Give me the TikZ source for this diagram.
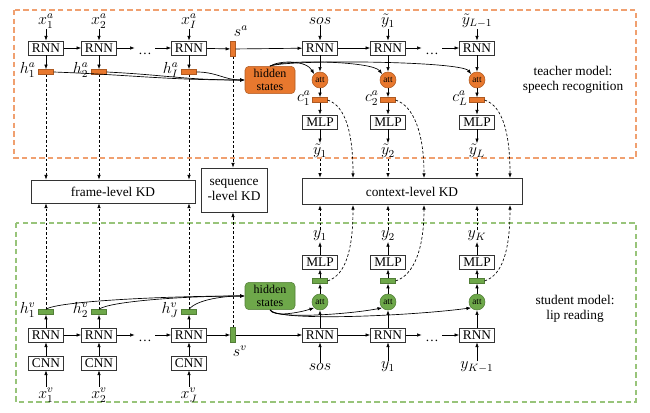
\documentclass[tikz,border=0pt]{standalone}
\usepackage{fontspec}
\setmainfont{Liberation Serif}
\usetikzlibrary{arrows.meta,calc}
\definecolor{org}{HTML}{E8782E}
\definecolor{orgd}{HTML}{C0581A}
\definecolor{orgl}{HTML}{F0A070}
\definecolor{grn}{HTML}{6EA84A}
\definecolor{grnd}{HTML}{4A8A2C}
\definecolor{grnl}{HTML}{98C47A}
\begin{document}
\begin{tikzpicture}[x=0.75pt,y=-0.75pt,font=\fontsize{10}{11}\selectfont,
  box/.style={draw=black!80,line width=0.6pt,minimum width=26pt,minimum height=10.5pt,inner sep=0.5pt},
  kdbox/.style={draw=black!80,line width=0.6pt,inner sep=1pt,align=center},
  hbar/.style={fill=#1,draw=#1!75!black,line width=0.4pt,minimum width=11pt,minimum height=3.6pt,inner sep=0pt},
  vbar/.style={fill=#1,draw=#1!75!black,line width=0.4pt,minimum width=3.6pt,minimum height=11pt,inner sep=0pt},
  attn/.style={circle,fill=#1,draw=#1!75!black,line width=0.4pt,minimum size=12pt,inner sep=0pt,font=\fontsize{7}{8}\selectfont},
  hid/.style={rounded corners=3pt,fill=#1,draw=#1!75!black,line width=0.4pt,minimum width=37.5pt,minimum height=20.5pt,inner sep=0pt,align=center,font=\fontsize{9}{9.5}\selectfont},
  lab/.style={inner sep=0.5pt,font=\fontsize{11.5}{12}\selectfont},
  arr/.style={-{Latex[length=3.5pt,width=2.6pt]},line width=0.5pt},
  darr/.style={arr,dash pattern=on 2pt off 1.5pt},
  frame/.style={draw=#1,line width=0.8pt,dash pattern=on 4pt off 2.5pt}]
\useasboundingbox (0,0) rectangle (650,413);

% frames
\draw[frame=orgl] (14,10) rectangle (636,158);
\draw[frame=grnl] (16,223) rectangle (636,402);

% ---------- teacher ----------
\node[lab] (xa1) at (46,21) {$x_1^a$};
\node[lab] (xa2) at (99,21) {$x_2^a$};
\node[lab] (xa3) at (189,21) {$x_I^a$};
\node[box] (ra1) at (46,48) {RNN};
\node[box] (ra2) at (99,48) {RNN};
\node[box] (ra3) at (189,48) {RNN};
\node[inner sep=1pt] (da) at (145,54) {\dots};
\node[vbar=org] (sa) at (233,49) {};
\node[lab,anchor=south west] (sal) at (233,37) {$s^a$};
\node[lab] (sos) at (320,21) {$sos$};
\node[lab] (yi1) at (388,21) {$\tilde y_1$};
\node[lab] (yi3) at (477,21) {$\tilde y_{L-1}$};
\node[box] (rd1) at (320,48) {RNN};
\node[box] (rd2) at (388,48) {RNN};
\node[box] (rd3) at (477,48) {RNN};
\node[inner sep=1pt] (dd) at (432,54) {\dots};
\node[hbar=org] (ha1) at (46,72) {};
\node[hbar=org] (ha2) at (99,72) {};
\node[hbar=org] (ha3) at (189,72) {};
\node[lab,anchor=east] (hla1) at ($(ha1.west)+(-2,-2)$) {$h_1^a$};
\node[lab,anchor=east] (hla2) at ($(ha2.west)+(-2,-2)$) {$h_2^a$};
\node[lab,anchor=east] (hla3) at ($(ha3.west)+(-2,-2)$) {$h_I^a$};
\node[hid=org] (hida) at (270,80) {hidden\\states};
\node[attn=org] (aa1) at (320,80) {att};
\node[attn=org] (aa2) at (388,80) {att};
\node[attn=org] (aa3) at (477,80) {att};
\node[hbar=org] (ca1) at (320,100) {};
\node[hbar=org] (ca2) at (388,100) {};
\node[hbar=org] (ca3) at (477,100) {};
\node[lab,anchor=east] (cla1) at ($(ca1.west)+(-1,-2)$) {$c_1^a$};
\node[lab,anchor=east] (cla2) at ($(ca2.west)+(-1,-2)$) {$c_2^a$};
\node[lab,anchor=east] (cla3) at ($(ca3.west)+(-1,-2)$) {$c_L^a$};
\node[box] (ma1) at (320,122) {MLP};
\node[box] (ma2) at (388,122) {MLP};
\node[box] (ma3) at (477,122) {MLP};
\node[lab] (ot1) at (320,151) {$\tilde y_1$};
\node[lab] (ot2) at (388,151) {$\tilde y_2$};
\node[lab] (ot3) at (477,151) {$\tilde y_L$};
\node[align=center] (tl) at (573,80) {teacher model:\\speech recognition};

% ---------- KD boxes ----------
\node[kdbox,minimum width=123pt,minimum height=17.25pt] (fkd) at (113,191.5) {frame-level KD};
\node[kdbox,minimum width=49.5pt,minimum height=33pt] (skd) at (234,190) {sequence\\-level KD};
\node[kdbox,minimum width=165pt,minimum height=20pt] (ckd) at (412,191.5) {context-level KD};
\coordinate (kt1) at (353,178); \coordinate (kt2) at (424,178); \coordinate (kt3) at (510,178);
\coordinate (kb1) at (353,205); \coordinate (kb2) at (424,205); \coordinate (kb3) at (510,205);

% ---------- student ----------
\node[lab] (ys1) at (320,236) {$y_1$};
\node[lab] (ys2) at (388,236) {$y_2$};
\node[lab] (ys3) at (477,236) {$y_K$};
\node[box] (mv1) at (320,262) {MLP};
\node[box] (mv2) at (388,262) {MLP};
\node[box] (mv3) at (477,262) {MLP};
\node[hbar=grn] (gb1) at (320,281) {};
\node[hbar=grn] (gb2) at (388,281) {};
\node[hbar=grn] (gb3) at (477,281) {};
\node[attn=grn] (av1) at (320,302) {att};
\node[attn=grn] (av2) at (388,302) {att};
\node[attn=grn] (av3) at (477,302) {att};
\node[hid=grn] (hidv) at (270,296) {hidden\\states};
\node[hbar=grn] (hv1) at (46,312) {};
\node[hbar=grn] (hv2) at (99,312) {};
\node[hbar=grn] (hv3) at (189,312) {};
\node[lab,anchor=east] (hlv1) at ($(hv1.west)+(-2,-2)$) {$h_1^v$};
\node[lab,anchor=east] (hlv2) at ($(hv2.west)+(-2,-2)$) {$h_2^v$};
\node[lab,anchor=east] (hlv3) at ($(hv3.west)+(-2,-2)$) {$h_J^v$};
\node[box] (rv1) at (46,335) {RNN};
\node[box] (rv2) at (99,335) {RNN};
\node[box] (rv3) at (189,335) {RNN};
\node[inner sep=1pt] (dv) at (145,341) {\dots};
\node[vbar=grn] (sv) at (233,335) {};
\node[lab,anchor=north west] (svl) at (232,345) {$s^v$};
\node[box] (rw1) at (320,335) {RNN};
\node[box] (rw2) at (388,335) {RNN};
\node[box] (rw3) at (477,335) {RNN};
\node[inner sep=1pt] (dw) at (432,341) {\dots};
\node[box] (cn1) at (46,363) {CNN};
\node[box] (cn2) at (99,363) {CNN};
\node[box] (cn3) at (189,363) {CNN};
\node[lab] (xv1) at (46,395) {$x_1^v$};
\node[lab] (xv2) at (99,395) {$x_2^v$};
\node[lab] (xv3) at (189,395) {$x_J^v$};
\node[lab] (sosv) at (320,367) {$sos$};
\node[lab] (yv1) at (388,367) {$y_1$};
\node[lab] (yv3) at (477,367) {$y_{K-1}$};
\node[align=center] (sl) at (575,309) {student model:\\lip reading};

% ---------- teacher connectors ----------
\foreach \i in {1,2,3} {
  \draw[arr] (xa\i) -- (ra\i);
  \draw[arr] (ra\i) -- (ha\i);
  \draw[arr] (rd\i) -- (aa\i);
  \draw[arr] (aa\i) -- (ca\i);
  \draw[arr] (ca\i) -- (ma\i);
  \draw[arr] (ma\i) -- (ot\i);
  \draw[darr] (ha\i.south) -- (ha\i.south |- fkd.north);
  \draw[darr] (ot\i.south) -- (ot\i.south |- ckd.north);
  \draw[darr] (ca\i.east) .. controls +(18,6) and +(0,-45) .. (kt\i);
}
\draw[arr] (sos) -- (rd1);
\draw[arr] (yi1) -- (rd2);
\draw[arr] (yi3) -- (rd3);
\draw[arr] (ra1) -- (ra2);
\draw[arr] (ra2.east) -- ($(da.west)+(-2,-6)$);
\draw[arr] ($(da.east)+(2,-6)$) -- (ra3.west);
\draw[arr] (ra3) -- (sa);
\draw[arr] (sa) -- (rd1);
\draw[arr] (rd1) -- (rd2);
\draw[arr] (rd2.east) -- ($(dd.west)+(-2,-6)$);
\draw[arr] ($(dd.east)+(2,-6)$) -- (rd3.west);
\draw[darr] (sa.south) -- (sa.south |- skd.north);
\draw[arr] (ha1.east) .. controls +(80,3) and +(-80,0) .. (hida.west);
\draw[arr] (ha2.east) .. controls +(60,3) and +(-60,0) .. (hida.west);
\draw[arr] (ha3.east) .. controls +(20,0) and +(-20,0) .. (hida.west);
\draw[arr] (hida.north) .. controls +(10,-6) and +(-8,-14) .. (aa1.north west);
\draw[arr] (hida.north) .. controls +(15,-7) and +(-10,-13) .. (aa2.north west);
\draw[arr] (hida.north) .. controls +(20,-7) and +(-10,-13) .. (aa3.north west);

% ---------- student connectors ----------
\foreach \i in {1,2,3} {
  \draw[arr] (xv\i) -- (cn\i);
  \draw[arr] (cn\i) -- (rv\i);
  \draw[arr] (rv\i) -- (hv\i);
  \draw[arr] (rw\i) -- (av\i);
  \draw[arr] (av\i) -- (gb\i);
  \draw[arr] (gb\i) -- (mv\i);
  \draw[arr] (mv\i) -- (ys\i);
  \draw[darr] (hv\i.north) -- (hv\i.north |- fkd.south);
  \draw[darr] (ys\i.north) -- (ys\i.north |- ckd.south);
  \draw[darr] (gb\i.east) .. controls +(18,-6) and +(0,45) .. (kb\i);
}
\draw[arr] (sosv) -- (rw1);
\draw[arr] (yv1) -- (rw2);
\draw[arr] (yv3) -- (rw3);
\draw[arr] (rv1) -- (rv2);
\draw[arr] (rv2.east) -- ($(dv.west)+(-2,-6)$);
\draw[arr] ($(dv.east)+(2,-6)$) -- (rv3.west);
\draw[arr] (rv3) -- (sv);
\draw[arr] (sv) -- (rw1);
\draw[arr] (rw1) -- (rw2);
\draw[arr] (rw2.east) -- ($(dw.west)+(-2,-6)$);
\draw[arr] ($(dw.east)+(2,-6)$) -- (rw3.west);
\draw[darr] (sv.north) -- (sv.north |- skd.south);
\draw[arr] (hv1.north) .. controls +(10,-8) and +(-80,0) .. (hidv.west);
\draw[arr] (hv2.north) .. controls +(10,-8) and +(-60,0) .. (hidv.west);
\draw[arr] (hv3.north) .. controls +(8,-10) and +(-20,0) .. (hidv.west);
\draw[arr] (hidv.south) .. controls +(4,8) and +(-12,4) .. (av1.south west);
\draw[arr] (hidv.south) .. controls +(6,10) and +(-30,6) .. (av2.south west);
\draw[arr] (hidv.south) .. controls +(8,12) and +(-60,8) .. (av3.south west);
\end{tikzpicture}
\end{document}
